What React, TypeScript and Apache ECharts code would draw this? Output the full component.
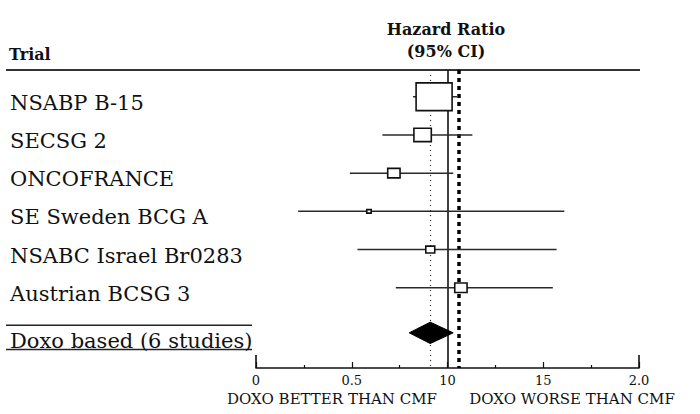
import React, { useEffect, useRef } from "react";
import * as echarts from "echarts";

// ---- data ----
const trials = [
  "NSABP B-15",
  "SECSG 2",
  "ONCOFRANCE",
  "SE Sweden BCG A",
  "NSABC Israel Br0283",
  "Austrian BCSG 3",
];
const hazardRatio = [0.93, 0.87, 0.72, 0.59, 0.91, 1.07];
const ciLower = [0.82, 0.66, 0.49, 0.22, 0.53, 0.73];
const ciUpper = [1.05, 1.13, 1.03, 1.61, 1.57, 1.55];
const studyWeights = [64.7, 15.1, 7.6, 1.0, 4.0, 7.6];
const trialRows = [1, 2, 3, 4, 5, 6];

const pooledLabel = "Doxo based (6 studies)";
const pooledHR = 0.91;
const pooledLower = 0.8;
const pooledUpper = 1.03;
const pooledRow = 7.18;

const noEffectLine = 1.0;
const dashedRefLine = 1.06;

const xTickLabels = ["0", "0.5", "10", "15", "2.0"];
const headerTexts = ["Trial", "Hazard Ratio", "(95% CI)"];
const footerTexts = ["DOXO BETTER THAN CMF", "DOXO WORSE THAN CMF"];

const SERIF = "'DejaVu Serif', serif";

export default function App() {
  const ref = useRef<HTMLDivElement>(null);

  useEffect(() => {
    if (!ref.current) return;
    const chart = echarts.init(ref.current, null, { renderer: "svg" });

    const studyData = trials.map((_, i) => [
      hazardRatio[i],
      ciLower[i],
      ciUpper[i],
      studyWeights[i],
      trialRows[i],
    ]);

    const headerText = (text: string, x: number, y: number, align: string) => ({
      type: "text",
      x,
      y,
      style: {
        text,
        font: `bold 16px ${SERIF}`,
        fill: "#111",
        align,
        verticalAlign: "middle",
      },
    });

    const footerText = (text: string, x: number) => ({
      type: "text",
      x,
      y: 399,
      style: {
        text,
        font: `15px ${SERIF}`,
        fill: "#111",
        align: "center",
        verticalAlign: "middle",
      },
    });

    const option: any = {
      animation: false,
      backgroundColor: "#ffffff",
      grid: { left: 256, right: 61, top: 70, bottom: 46 },
      xAxis: {
        type: "value",
        min: 0,
        max: 2,
        interval: 0.5,
        splitLine: { show: false },
        axisLine: { show: true, lineStyle: { color: "#111", width: 1.6 } },
        axisTick: { show: true, inside: true, length: 6, lineStyle: { color: "#111", width: 1.2 } },
        minorTick: { show: true, splitNumber: 2, length: 3, lineStyle: { color: "#111", width: 1.2 } },
        axisLabel: {
          margin: 6,
          color: "#111",
          fontFamily: SERIF,
          fontSize: 13,
          formatter: (v: number) => xTickLabels[Math.round(v / 0.5)] ?? "",
        },
      },
      yAxis: {
        type: "value",
        inverse: true,
        min: 0.3,
        max: 8.1,
        show: false,
      },
      graphic: [
        headerText(headerTexts[0], 9, 54, "left"),
        headerText(headerTexts[1], 446, 29, "center"),
        headerText(headerTexts[2], 446, 51, "center"),
        {
          type: "line",
          shape: { x1: 6, y1: 70, x2: 640, y2: 70 },
          style: { stroke: "#333", lineWidth: 2 },
        },
        footerText(footerTexts[0], 332),
        footerText(footerTexts[1], 572),
      ],
      series: [
        {
          type: "line",
          data: [],
          z: 1,
          silent: true,
          markLine: {
            silent: true,
            symbol: "none",
            label: { show: false },
            data: [
              { xAxis: pooledHR, lineStyle: { color: "#333", width: 1.2, type: [1, 4] } },
              { xAxis: noEffectLine, lineStyle: { color: "#111", width: 1.6, type: "solid" } },
              { xAxis: dashedRefLine, lineStyle: { color: "#000", width: 3.5, type: [4, 4] } },
            ],
          },
        },
        {
          type: "custom",
          z: 5,
          clip: false,
          silent: true,
          data: studyData,
          renderItem: (params: any, api: any) => {
            const i = params.dataIndex;
            const hr = api.value(0);
            const lo = api.value(1);
            const hi = api.value(2);
            const w = api.value(3);
            const row = api.value(4);
            const c = api.coord([hr, row]);
            const l = api.coord([lo, row]);
            const h = api.coord([hi, row]);
            const bw = 4.475 * Math.sqrt(w);
            const bh = bw * 0.77;
            return {
              type: "group",
              children: [
                {
                  type: "line",
                  shape: { x1: l[0], y1: c[1], x2: h[0], y2: c[1] },
                  style: { stroke: "#2a2a2a", lineWidth: 1.5 },
                },
                {
                  type: "rect",
                  shape: { x: c[0] - bw / 2, y: c[1] - bh / 2, width: bw, height: bh },
                  style: { fill: "#fff", stroke: "#111", lineWidth: 1.6 },
                },
                {
                  type: "text",
                  x: 10,
                  y: c[1] + 6,
                  style: {
                    text: trials[i],
                    font: `21px ${SERIF}`,
                    fill: "#111",
                    align: "left",
                    verticalAlign: "middle",
                  },
                },
              ],
            };
          },
        },
        {
          type: "custom",
          z: 5,
          clip: false,
          silent: true,
          data: [[pooledHR, pooledLower, pooledUpper, pooledRow]],
          renderItem: (params: any, api: any) => {
            const hr = api.value(0);
            const lo = api.value(1);
            const hi = api.value(2);
            const row = api.value(3);
            const c = api.coord([hr, row]);
            const l = api.coord([lo, row]);
            const h = api.coord([hi, row]);
            const dh = 10.7;
            return {
              type: "group",
              children: [
                {
                  type: "polygon",
                  shape: {
                    points: [
                      [l[0], c[1]],
                      [c[0], c[1] - dh],
                      [h[0], c[1]],
                      [c[0], c[1] + dh],
                    ],
                  },
                  style: { fill: "#000", stroke: "#000", lineWidth: 1 },
                },
                {
                  type: "line",
                  shape: { x1: 6, y1: c[1] - 7.6, x2: 252, y2: c[1] - 7.6 },
                  style: { stroke: "#222", lineWidth: 1.6 },
                },
                {
                  type: "line",
                  shape: { x1: 6, y1: c[1] + 16.7, x2: 252, y2: c[1] + 16.7 },
                  style: { stroke: "#222", lineWidth: 1.6 },
                },
                {
                  type: "text",
                  x: 10,
                  y: c[1] + 8.2,
                  style: {
                    text: pooledLabel,
                    font: `21px ${SERIF}`,
                    fill: "#111",
                    align: "left",
                    verticalAlign: "middle",
                  },
                },
              ],
            };
          },
        },
        {
          type: "custom",
          z: 4,
          clip: false,
          silent: true,
          data: [[0], [2]],
          renderItem: (params: any, api: any) => {
            const p = api.coord([api.value(0), 8.1]);
            return {
              type: "line",
              shape: { x1: p[0], y1: p[1] - 13, x2: p[0], y2: p[1] },
              style: { stroke: "#111", lineWidth: 1.6 },
            };
          },
        },
      ],
    };

    chart.setOption(option);
    return () => chart.dispose();
  }, []);

  return (
    <div
      ref={ref}
      style={{ position: "fixed", left: 0, top: 0, width: 700, height: 414, background: "#fff" }}
    />
  );
}
